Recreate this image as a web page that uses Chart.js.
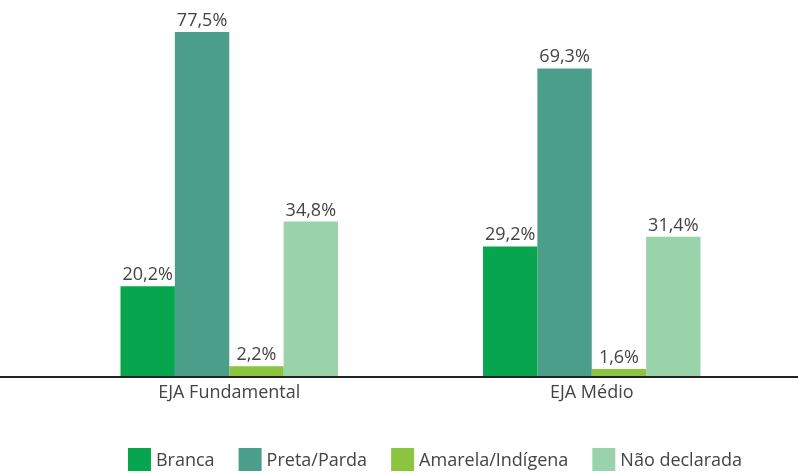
<!DOCTYPE html>
<html>
<head>
<meta charset="utf-8">
<script src="https://cdn.jsdelivr.net/npm/chart.js@4"></script>
<style>
  html, body { margin: 0; padding: 0; background: #fff; }
  #wrap { width: 798px; height: 473px; }
</style>
</head>
<body>
<div id="wrap"><canvas id="myChart" width="798" height="473"></canvas></div>
<script>
var categories = ['EJA Fundamental', 'EJA Médio'];
var seriesNames = ['Branca', 'Preta/Parda', 'Amarela/Indígena', 'Não declarada'];
var branca = [20.2, 29.2];
var pretaParda = [77.5, 69.3];
var amarelaIndigena = [2.2, 1.6];
var naoDeclarada = [34.8, 31.4];
var colors = ['#07a64e', '#4b9e89', '#8bc53f', '#9ad2ab'];

var FONT = '"Open Sans"';

function fmt(v) {
    return v.toFixed(1).replace('.', ',') + '%';
}

// valor em cima de cada barra
var valueLabels = {
    id: 'valueLabels',
    afterDatasetsDraw: function(chart) {
        var ctx = chart.ctx;
        ctx.save();
        ctx.font = '18px ' + FONT;
        ctx.fillStyle = '#444';
        ctx.textAlign = 'center';
        ctx.textBaseline = 'alphabetic';
        chart.data.datasets.forEach(function(ds, i) {
            chart.getDatasetMeta(i).data.forEach(function(bar, j) {
                ctx.fillText(fmt(ds.data[j]), bar.x, bar.y - 6);
            });
        });
        ctx.restore();
    }
};

// linha base de ponta a ponta
var baseLine = {
    id: 'baseLine',
    afterDatasetsDraw: function(chart) {
        var ctx = chart.ctx;
        var y = chart.scales.y.getPixelForValue(0);
        ctx.save();
        ctx.strokeStyle = '#222';
        ctx.lineWidth = 2;
        ctx.beginPath();
        ctx.moveTo(0, y + 1);
        ctx.lineTo(chart.width, y + 1);
        ctx.stroke();
        ctx.restore();
    }
};

// legenda embaixo, quadrado colado no texto
var bottomLegend = {
    id: 'bottomLegend',
    afterDraw: function(chart) {
        var ctx = chart.ctx;
        var box = 23, gapText = 5, gapItem = 24;
        ctx.save();
        ctx.font = '18px ' + FONT;
        var total = 0;
        var widths = chart.data.datasets.map(function(ds) {
            var w = ctx.measureText(ds.label).width;
            total += box + gapText + w;
            return w;
        });
        total += gapItem * (widths.length - 1);
        var x = 435 - total / 2;
        var top = 448;
        ctx.textBaseline = 'middle';
        ctx.textAlign = 'left';
        chart.data.datasets.forEach(function(ds, i) {
            ctx.fillStyle = ds.backgroundColor;
            ctx.fillRect(x, top, box, box);
            ctx.fillStyle = '#444';
            ctx.fillText(ds.label, x + box + gapText, top + box / 2 + 1);
            x += box + gapText + widths[i] + gapItem;
        });
        ctx.restore();
    }
};

var ctx = document.getElementById('myChart').getContext('2d');
var chart = new Chart(ctx, {
    type: 'bar',
    data: {
        labels: categories,
        datasets: [
            { label: seriesNames[0], data: branca, backgroundColor: colors[0] },
            { label: seriesNames[1], data: pretaParda, backgroundColor: colors[1] },
            { label: seriesNames[2], data: amarelaIndigena, backgroundColor: colors[2] },
            { label: seriesNames[3], data: naoDeclarada, backgroundColor: colors[3] }
        ]
    },
    options: {
        responsive: false,
        animation: false,
        layout: { padding: { left: 48, right: 25, top: 21, bottom: 0 } },
        datasets: { bar: { barPercentage: 1, categoryPercentage: 0.6 } },
        scales: {
            x: {
                grid: { display: false, drawTicks: false },
                border: { display: false },
                ticks: { color: '#444', font: { family: 'Open Sans', size: 18 }, padding: 6 },
                afterFit: function(s) { s.height = 97; }
            },
            y: {
                display: false,
                min: 0,
                max: 80
            }
        },
        plugins: {
            legend: { display: false },
            tooltip: { enabled: false }
        }
    },
    plugins: [valueLabels, baseLine, bottomLegend]
});
</script>
</body>
</html>
